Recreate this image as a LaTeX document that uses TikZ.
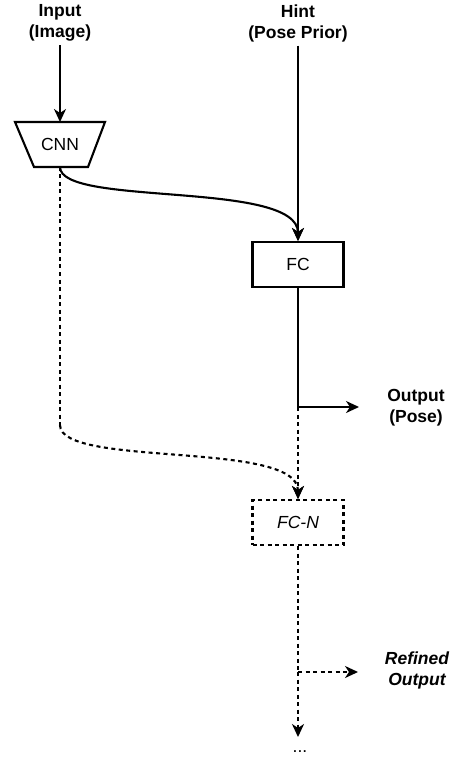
\documentclass[tikz,border=0pt]{standalone}
\usepackage{fontspec}
\setmainfont{Liberation Sans}
\usetikzlibrary{arrows.meta}
\begin{document}
\begin{tikzpicture}[x=1pt,y=-1pt, line width=2.1pt,
  arr/.style={-{Stealth[length=13pt,width=12pt,inset=4pt]}},
  dsh/.style={dash pattern=on 4pt off 3.5pt},
  lbl/.style={font=\fontsize{17.5}{21}\selectfont\bfseries, align=center, inner sep=3pt},
  txt/.style={font=\fontsize{17.5}{21}\selectfont},
  box/.style={draw, minimum width=91pt, minimum height=45pt, font=\fontsize{17.5}{21}\selectfont, inner sep=0pt}]
\useasboundingbox (0,0) rectangle (473,775);
% labels
\node[lbl] (in) at (60,23) {Input\\(Image)};
\node[lbl] (hint) at (298,23) {Hint\\(Pose Prior)};
% CNN trapezoid
\draw[line join=miter] (15,122) -- (105,122) -- (88,167) -- (34,167) -- cycle;
\node[txt] (cnn) at (60,144) {CNN};
\coordinate (cnnt) at (60,122);
\coordinate (cnnb) at (60,167);
% boxes
\node[box] (fc) at (298,264.5) {FC};
\node[box, dsh] (fcn) at (298,522.5) {\itshape FC-N};
% outputs
\node[lbl] (out) at (416,408) {Output\\(Pose)};
\node[lbl, font=\fontsize{17.5}{21}\selectfont\bfseries\itshape] (rout) at (417,670) {Refined\\Output};
\node[txt] (dots) at (300,752) {...};
\coordinate (br1) at (298,407);
\coordinate (oend) at (359,407);
\coordinate (br2) at (298,672);
\coordinate (rend) at (358,672);
\coordinate (bend) at (60,425);
% connectors
\draw[arr] (in) -- (cnnt);
\draw[arr] (hint) -- (fc);
\draw[arr] (cnnb) .. controls (60,207) and (298,180) .. (fc.north);
\draw (fc.south) -- (br1);
\draw[arr] (br1) -- (oend);
\draw[dsh, arr] (br1) -- (fcn.north);
\draw[dsh] (cnnb) -- (bend);
\draw[dsh, arr] (bend) .. controls (60,468) and (298,440) .. (fcn.north);
\draw[dsh] (fcn.south) -- (br2);
\draw[dsh, arr] (br2) -- (rend);
\draw[dsh, arr] (br2) -- (298,737) coordinate (dend);
\end{tikzpicture}
\end{document}
